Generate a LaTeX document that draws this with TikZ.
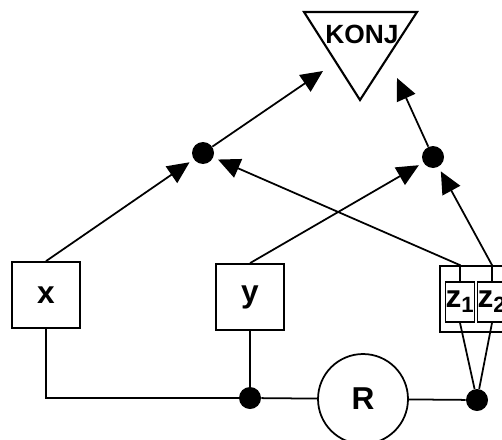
\documentclass[tikz,border=0pt]{standalone}
\usepackage{fontspec}
\setmainfont{Liberation Sans}
\usetikzlibrary{arrows.meta,positioning}

\begin{document}
\begin{tikzpicture}[x=0.02cm,y=-0.02cm,
  wire/.style={line width=1pt},
  box/.style={draw,wire,minimum width=1.36cm,minimum height=1.32cm,inner sep=0pt,
              font=\bfseries\fontsize{18}{20}\selectfont},
  zbox/.style={draw,wire,minimum width=0.52cm,minimum height=0.8cm,inner sep=0pt,
               font=\bfseries\fontsize{18}{20}\selectfont},
  dot/.style={circle,fill=black,minimum size=0.44cm,inner sep=0pt},
  arrow/.style={wire,-{Triangle[length=0.44cm,width=0.4cm]}}
]
\useasboundingbox (0,0) rectangle (502,439);
\clip (0,0) rectangle (502,439);
% KONJ
\draw[line width=1.2pt] (304,12) -- (417,12) -- (360,100) -- cycle;
\node[font=\bfseries\fontsize{15}{17}\selectfont] (konj) at (362,34) {KONJ};
\coordinate (k1) at (323,71);
\coordinate (k2) at (397,78);
% Dots
\node[dot] (d1) at (203,153) {};
\node[dot] (d2) at (433,157) {};
\node[dot] (d3) at (250,398) {};
\node[dot] (d4) at (477,400) {};
% Boxes
\node[box] (x) at (46,295) {x};
\node[box] (y) at (250,297) {y};
\node[draw,wire,minimum width=1.44cm,minimum height=1.32cm] (zz) at (476,299) {};
\node[zbox] (z1) at (460,302) {z\textsubscript{1}};
\node[zbox] (z2) at (492,302) {z\textsubscript{2}};
% R
\node[circle,draw,wire,minimum size=1.8cm,font=\bfseries\fontsize{18}{20}\selectfont] (r) at (363,399) {R};
% Arrows
\draw[arrow,shorten >=0.1cm] (x.north) -- (d1);
\draw[arrow,shorten >=0.1cm] (y.north) -- (d2);
\draw[arrow,shorten >=0.1cm] (z1.north) -- (z1.north |- zz.north) -- (d1);
\draw[arrow,shorten >=0.1cm] (z2.north) -- (z2.north |- zz.north) -- (d2);
\draw[arrow] (d1) -- (k1);
\draw[arrow] (d2) -- (k2);
% Lines
\draw[wire] (z1.south) -- (d4);
\draw[wire] (z2.south) -- (d4);
\draw[wire] (x.south) |- (d3);
\draw[wire] (y.south) -- (d3);
\draw[wire] (d3) -- (r);
\draw[wire] (r) -- (d4);
\end{tikzpicture}
\end{document}
